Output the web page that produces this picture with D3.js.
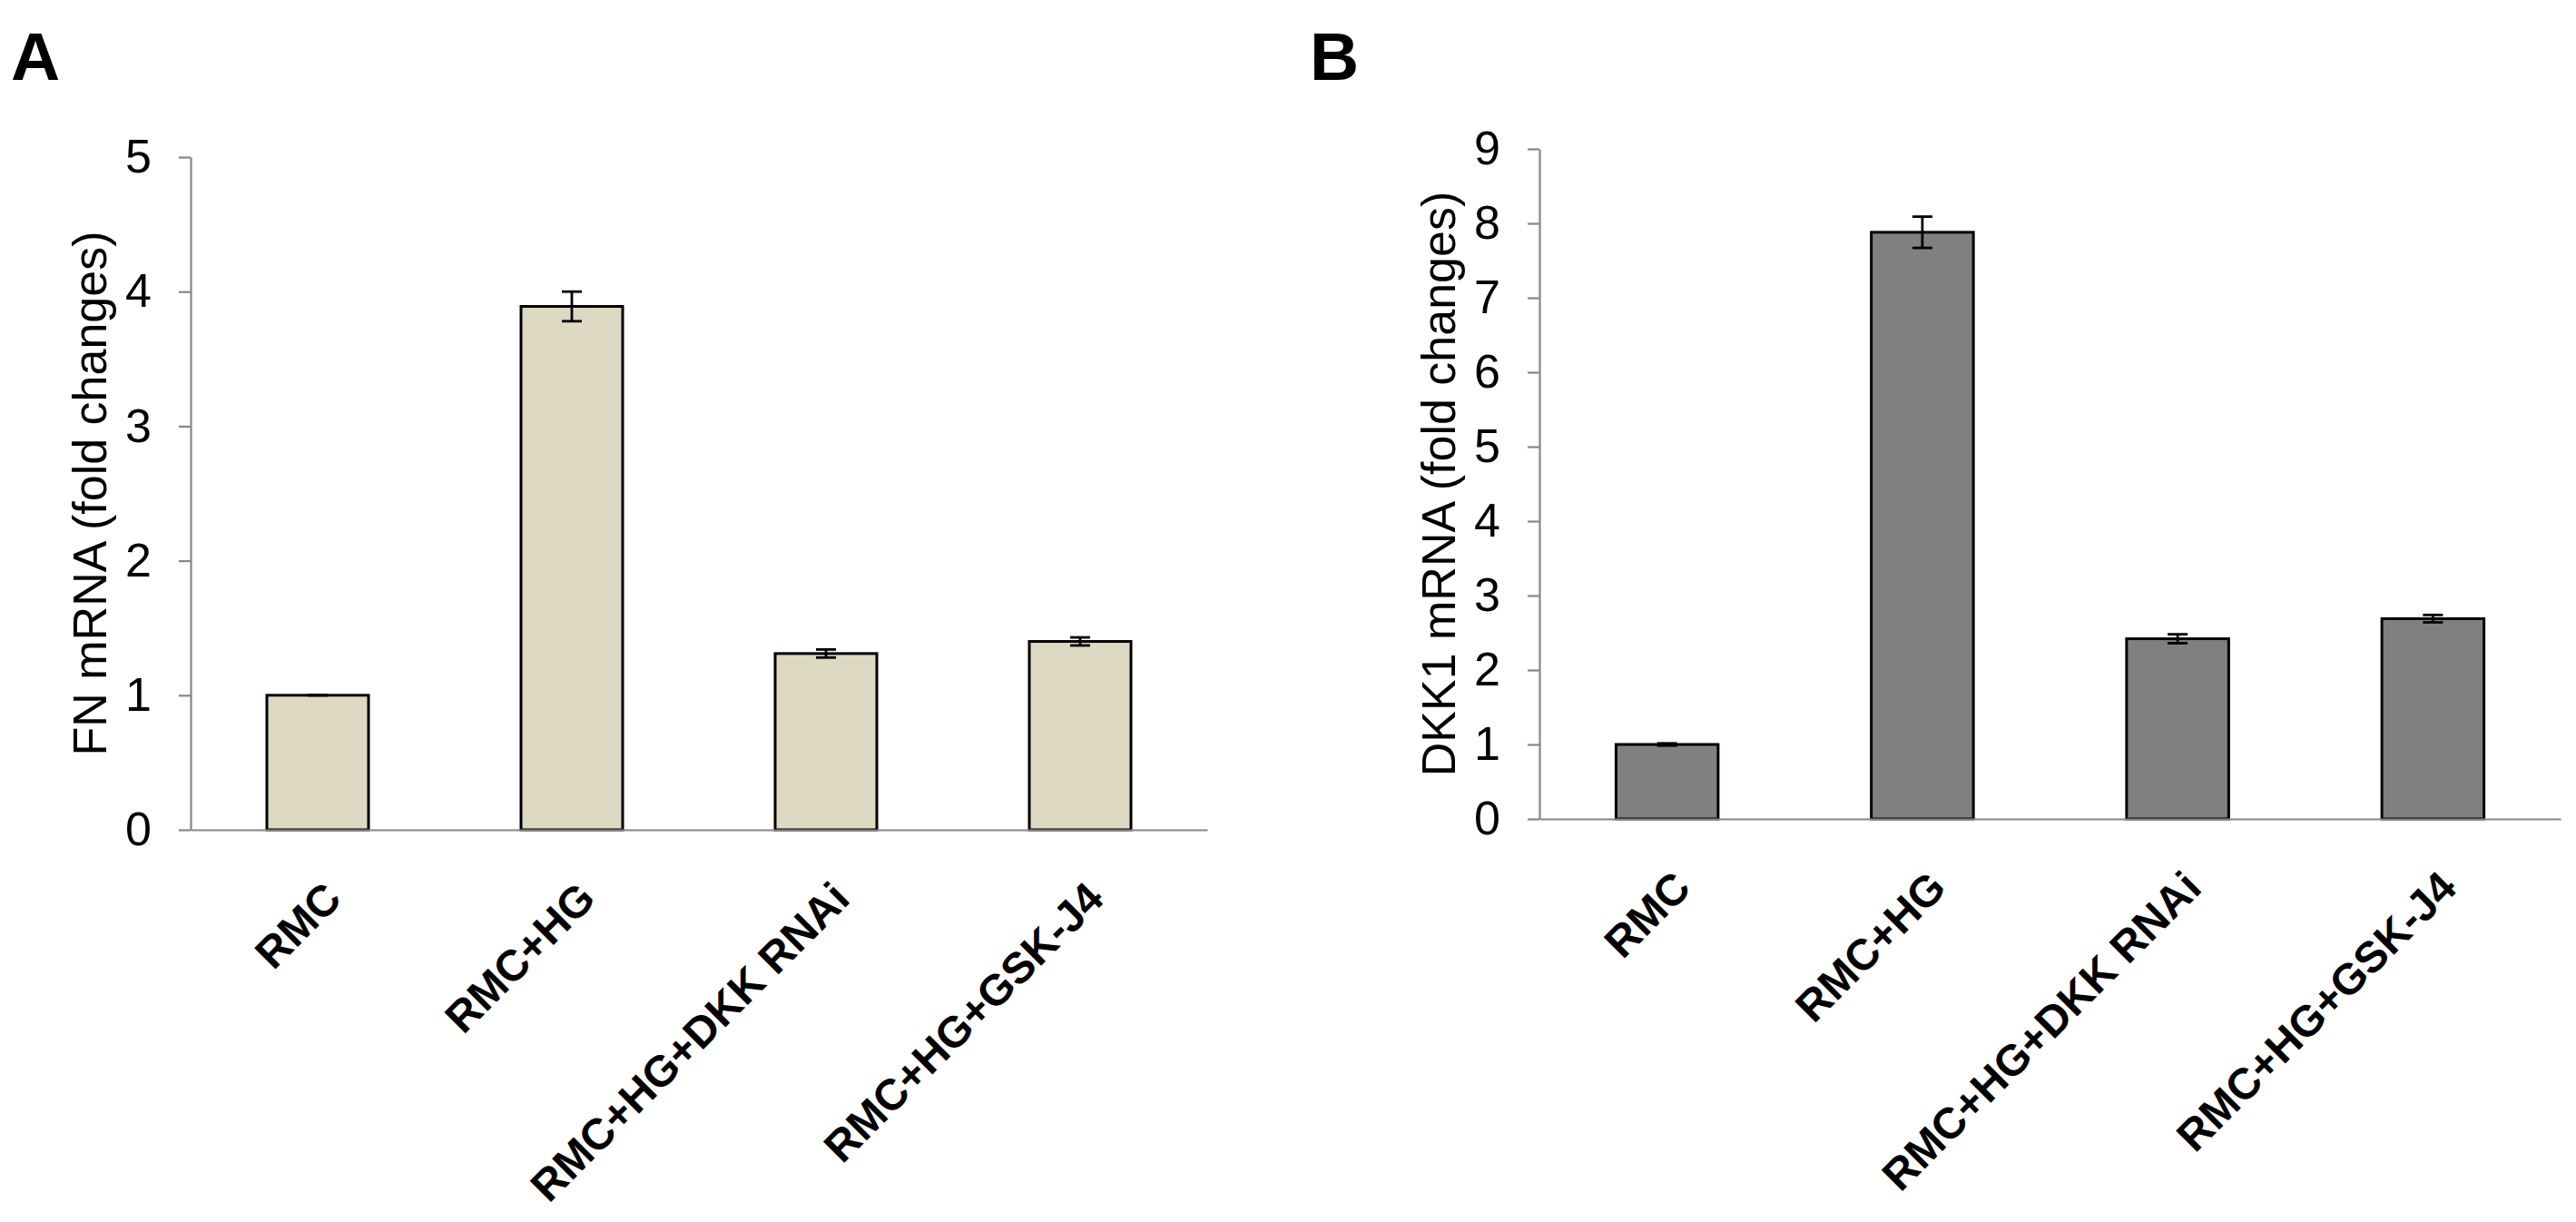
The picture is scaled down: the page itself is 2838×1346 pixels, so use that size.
<!DOCTYPE html>
<html>
<head>
<meta charset="utf-8">
<script src="https://cdn.jsdelivr.net/npm/d3@7"></script>
<style>
  body { margin: 0; background: #fff; }
  svg { display: block; }
  text { font-family: "Liberation Sans", Arial, sans-serif; fill: #000; }
</style>
</head>
<body>
<svg id="chart" width="2838" height="1346"></svg>
<script>
// data
const categories = ["RMC", "RMC+HG", "RMC+HG+DKK RNAi", "RMC+HG+GSK-J4"];
const fnValues = [1.0, 3.89, 1.31, 1.40];
const fnErrors = [0.0, 0.11, 0.03, 0.03];
const dkkValues = [1.0, 7.88, 2.42, 2.69];
const dkkErrors = [0.015, 0.21, 0.06, 0.05];
const fnTicks = [0, 1, 2, 3, 4, 5];
const dkkTicks = [0, 1, 2, 3, 4, 5, 6, 7, 8, 9];

const axisColor = "#868686";
const svg = d3.select("#chart");
svg.append("rect").attr("width", 2838).attr("height", 1346).attr("fill", "#fff");

// one panel = one bar chart with error bars
function drawPanel(p) {
  const g = svg.append("g");
  const x = d3.scaleBand()
    .domain(categories)
    .range([p.x0, p.x1])
    .paddingInner(0.6)
    .paddingOuter(0.3);
  const y = d3.scaleLinear()
    .domain([0, d3.max(p.ticks)])
    .range([p.y0, p.y1]);

  const rows = categories.map((c, i) => ({ cat: c, v: p.values[i], e: p.errors[i] }));

  g.selectAll(".bar")
    .data(rows)
    .enter().append("rect")
    .attr("class", "bar")
    .attr("x", d => x(d.cat))
    .attr("y", d => y(d.v))
    .attr("width", x.bandwidth())
    .attr("height", d => y(0) - y(d.v))
    .attr("fill", p.fill)
    .attr("stroke", "#000")
    .attr("stroke-width", 3);

  // error bars
  const eb = g.selectAll(".err")
    .data(rows)
    .enter().append("g")
    .attr("class", "err")
    .attr("stroke", "#000")
    .attr("stroke-width", 2.8);
  const cx = d => x(d.cat) + x.bandwidth() / 2;
  eb.append("line")
    .attr("x1", cx).attr("x2", cx)
    .attr("y1", d => y(d.v + d.e)).attr("y2", d => y(d.v - d.e));
  eb.append("line")
    .attr("x1", d => cx(d) - 11).attr("x2", d => cx(d) + 11)
    .attr("y1", d => y(d.v + d.e)).attr("y2", d => y(d.v + d.e));
  eb.append("line")
    .attr("x1", d => cx(d) - 11).attr("x2", d => cx(d) + 11)
    .attr("y1", d => y(d.v - d.e)).attr("y2", d => y(d.v - d.e));

  // category axis line
  const xa = g.append("g")
    .attr("transform", `translate(0,${y(0)})`)
    .call(d3.axisBottom(x).tickSize(0).tickSizeOuter(0).tickFormat(""));
  xa.select(".domain").attr("stroke", axisColor).attr("stroke-width", 2.2);

  // value axis
  const ya = g.append("g")
    .attr("transform", `translate(${p.x0},0)`)
    .call(d3.axisLeft(y).tickValues(p.ticks).tickFormat(d3.format("d"))
      .tickSize(13).tickSizeOuter(0).tickPadding(30));
  ya.select(".domain").attr("stroke", axisColor).attr("stroke-width", 2.2);
  ya.selectAll(".tick line").attr("stroke", axisColor).attr("stroke-width", 2.2);
  ya.selectAll(".tick text")
    .style("font-family", '"Liberation Sans", Arial, sans-serif')
    .style("font-size", "52px")
    .attr("fill", "#000");

  // rotated category labels
  g.selectAll(".cat")
    .data(rows)
    .enter().append("text")
    .attr("class", "cat")
    .attr("transform", d => `translate(${cx(d) + 4},${y(0) + 54}) rotate(-45)`)
    .attr("text-anchor", "end")
    .attr("dy", "0.72em")
    .style("font-size", "48px")
    .style("font-weight", "bold")
    .text(d => d.cat);

  // y title
  g.append("text")
    .attr("transform", `translate(${p.titleX},${(p.y0 + p.y1) / 2}) rotate(-90)`)
    .attr("text-anchor", "middle")
    .style("font-size", "52px")
    .text(p.title);

  // panel letter
  g.append("text")
    .attr("x", p.letterX)
    .attr("y", 88)
    .style("font-size", "75px")
    .style("font-weight", "bold")
    .text(p.letter);
}

drawPanel({
  letter: "A", letterX: 12,
  title: "FN mRNA (fold changes)", titleX: 117,
  values: fnValues, errors: fnErrors, ticks: fnTicks,
  fill: "#DDD9C3",
  x0: 210, x1: 1330, y0: 914, y1: 173
});

drawPanel({
  letter: "B", letterX: 1443,
  title: "DKK1 mRNA (fold changes)", titleX: 1603,
  values: dkkValues, errors: dkkErrors, ticks: dkkTicks,
  fill: "#808080",
  x0: 1696, x1: 2821, y0: 902, y1: 164
});
</script>
</body>
</html>
